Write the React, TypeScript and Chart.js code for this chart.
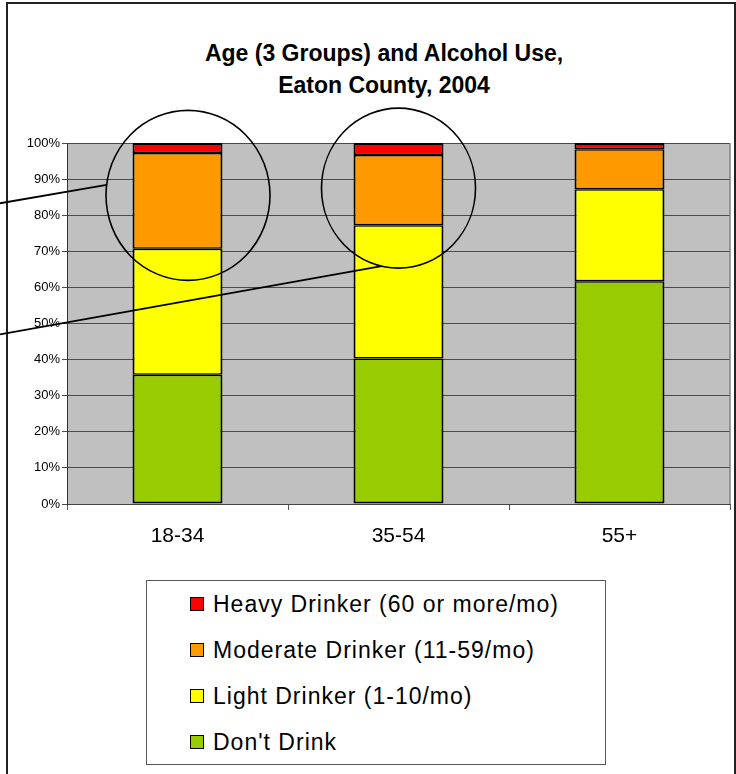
import React, { useEffect, useRef } from 'react';
import { Chart, registerables } from 'chart.js';

Chart.register(...registerables);

// ---- data ----
const categories = ['18-34', '35-54', '55+'];
const dontDrink = [35.8, 40.3, 61.7];
const lightDrinker = [34.9, 36.9, 25.5];
const moderateDrinker = [26.5, 19.5, 11.1];
const heavyDrinker = [2.8, 3.3, 1.7];

const seriesNames = [
  "Don't Drink",
  'Light Drinker (1-10/mo)',
  'Moderate Drinker (11-59/mo)',
  'Heavy Drinker (60 or more/mo)',
];
const seriesValues = [dontDrink, lightDrinker, moderateDrinker, heavyDrinker];
const seriesColors = ['#99CC00', '#FFFF00', '#FF9900', '#FF0000'];

const titleLines = ['Age (3 Groups) and Alcohol Use,', 'Eaton County, 2004'];

// callout annotations (category index, value at centre)
const calloutCircles = [
  { category: 0, value: 85.5, dx: 10.5, rx: 82, ry: 85 },
  { category: 1, value: 87.5, dx: 0, rx: 77, ry: 80 },
];
const calloutLines = [
  { circle: 0, fromValue: 83.3, angleDeg: 187 },
  { circle: 1, fromValue: 47.0, angleDeg: 102.7 },
];

const FONT = 'Arial, "Liberation Sans", Helvetica, sans-serif';

const decorPlugin = {
  id: 'decor',
  beforeDraw(chart: any) {
    const { ctx, chartArea: a } = chart;
    ctx.save();
    ctx.fillStyle = '#C0C0C0';
    ctx.fillRect(a.left, a.top, a.right - a.left, a.bottom - a.top);
    ctx.restore();
  },
  beforeDatasetsDraw(chart: any) {
    const { ctx, chartArea: a } = chart;
    ctx.save();
    ctx.strokeStyle = '#808080';
    ctx.lineWidth = 1.5;
    ctx.beginPath();
    ctx.moveTo(a.right, a.top);
    ctx.lineTo(a.right, a.bottom);
    ctx.stroke();
    ctx.restore();
  },
  afterDraw(chart: any) {
    const { ctx } = chart;
    const xs = chart.scales.x;
    const ys = chart.scales.y;
    ctx.save();
    ctx.strokeStyle = '#000';
    ctx.lineWidth = 1.6;
    const centers = calloutCircles.map((c) => ({
      cx: xs.getPixelForValue(c.category) + c.dx,
      cy: ys.getPixelForValue(c.value),
      rx: c.rx,
      ry: c.ry,
    }));
    centers.forEach((c) => {
      ctx.beginPath();
      ctx.ellipse(c.cx, c.cy, c.rx, c.ry, 0, 0, Math.PI * 2);
      ctx.stroke();
    });
    ctx.lineWidth = 1.8;
    calloutLines.forEach((l) => {
      const c = centers[l.circle];
      const t = (l.angleDeg * Math.PI) / 180;
      ctx.beginPath();
      ctx.moveTo(0, ys.getPixelForValue(l.fromValue));
      ctx.lineTo(c.cx + c.rx * Math.cos(t), c.cy + c.ry * Math.sin(t));
      ctx.stroke();
    });
    ctx.restore();
  },
};

export default function App() {
  const ref = useRef<HTMLCanvasElement>(null);

  useEffect(() => {
    const last = seriesNames.length - 1;
    const chart = new Chart(ref.current as HTMLCanvasElement, {
      type: 'bar',
      data: {
        labels: categories,
        datasets: seriesNames.map((name, i) => ({
          label: name,
          data: seriesValues[i],
          backgroundColor: seriesColors[i],
          borderColor: '#000',
          borderWidth: {
            left: 2,
            right: 2,
            top: i === last ? 2 : 1.5,
            bottom: i === 0 ? 2 : 1.5,
          },
          borderSkipped: false,
          barPercentage: 0.407,
          categoryPercentage: 1,
        })),
      },
      options: {
        responsive: false,
        animation: false,
        layout: { padding: { left: 0, right: 6, top: 143, bottom: 0 } },
        plugins: {
          legend: { display: false },
          tooltip: { enabled: false },
          title: { display: false },
        },
        scales: {
          x: {
            stacked: true,
            grid: {
              display: true,
              drawOnChartArea: false,
              drawTicks: true,
              tickLength: 6,
              color: '#555',
              offset: true,
            },
            border: { color: '#444', width: 1 },
            ticks: { font: { family: FONT, size: 21 }, color: '#000', padding: 14 },
            afterFit: (s: any) => {
              s.height = 270;
            },
          },
          y: {
            stacked: true,
            min: 0,
            max: 100,
            ticks: {
              stepSize: 10,
              callback: (v: any) => v + '%',
              font: { family: FONT, size: 13 },
              color: '#000',
              padding: 2,
            },
            grid: { color: '#4a4a4a', tickLength: 5, drawTicks: true, lineWidth: 1 },
            border: { color: '#333', width: 1 },
            afterFit: (s: any) => {
              s.width = 67;
            },
          },
        },
      },
      plugins: [decorPlugin],
    } as any);
    return () => chart.destroy();
  }, []);

  const legendOrder = [3, 2, 1, 0];

  return (
    <div
      style={{
        position: 'fixed',
        left: 0,
        top: 0,
        width: 736,
        height: 774,
        overflow: 'hidden',
        background: '#fff',
      }}
    >
      <div
        style={{
          position: 'absolute',
          left: 6,
          top: 2,
          width: 730,
          height: 820,
          border: '2px solid #222',
          boxSizing: 'border-box',
        }}
      />
      <div
        style={{
          position: 'absolute',
          left: 0,
          top: 37,
          width: 768,
          textAlign: 'center',
          fontFamily: FONT,
          fontWeight: 'bold',
          fontSize: 23,
          lineHeight: '32px',
          color: '#000',
        }}
      >
        {titleLines.map((t) => (
          <div key={t}>{t}</div>
        ))}
      </div>
      <canvas
        ref={ref}
        width={736}
        height={774}
        style={{ position: 'absolute', left: 0, top: 0, width: 736, height: 774 }}
      />
      <div
        style={{
          position: 'absolute',
          left: 146,
          top: 580,
          width: 460,
          height: 185,
          border: '1px solid #555',
          boxSizing: 'border-box',
          paddingLeft: 43,
          fontFamily: FONT,
          fontSize: 23,
          color: '#000',
          background: '#fff',
        }}
      >
        {legendOrder.map((i) => (
          <div key={i} style={{ height: 46, display: 'flex', alignItems: 'center' }}>
            <span
              style={{
                display: 'inline-block',
                width: 14,
                height: 14,
                boxSizing: 'border-box',
                border: '1px solid #000',
                background: seriesColors[i],
                marginRight: 9,
                flex: '0 0 auto',
              }}
            />
            <span style={{ letterSpacing: '1px', whiteSpace: 'nowrap', lineHeight: '26px' }}>
              {seriesNames[i]}
            </span>
          </div>
        ))}
      </div>
    </div>
  );
}
